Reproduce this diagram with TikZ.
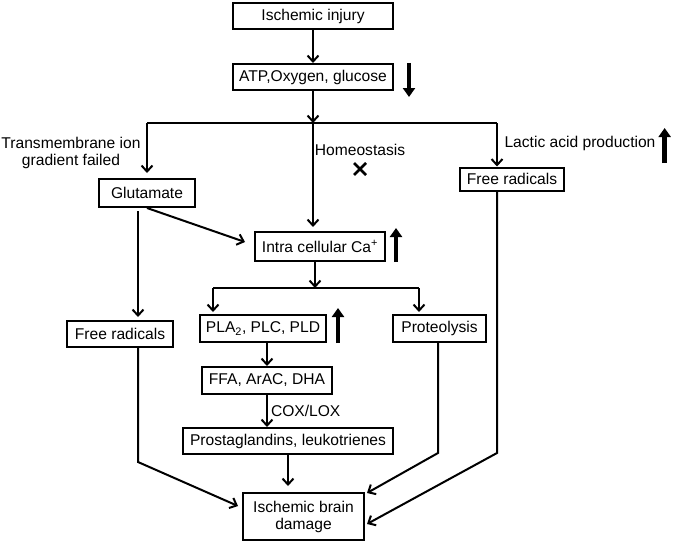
\documentclass[tikz,border=0pt]{standalone}
\usepackage{fontspec}
\setmainfont{Liberation Sans}
\usetikzlibrary{positioning,arrows.meta}

\begin{document}
\begin{tikzpicture}[x=1pt,y=-1pt,
  every node/.style={font=\fontsize{15.6}{17}\selectfont,inner sep=1pt},
  box/.style={draw,line width=2pt,inner sep=2pt,align=center},
  flow/.style={line width=2pt,-{Straight Barb[length=6pt,width=11pt]}},
  plain/.style={line width=2pt},
  trend/.style={line width=4.5pt,-{Triangle[length=9pt,width=12pt]}}]
  \useasboundingbox (0,0) rectangle (674,543);
  \node[box,minimum width=160pt,minimum height=26pt] (injury) at (313,16) {Ischemic injury};
  \node[box,minimum width=160pt,minimum height=26pt] (atp) at (313,77) {ATP,Oxygen, glucose};
  \node[box,minimum width=96pt,minimum height=28pt] (glu) at (147,193) {Glutamate};
  \node[box,minimum width=104pt,minimum height=23pt] (radR) at (512,179) {Free radicals};
  \node[box,minimum width=130pt,minimum height=29pt] (ca) at (320,246.5) {Intra cellular Ca\textsuperscript{+}};
  \node[box,minimum width=106pt,minimum height=26pt] (radL) at (120,334) {Free radicals};
  \node[box,minimum width=126pt,minimum height=27pt] (pla) at (263,328.5) {PLA\textsubscript{2}, PLC, PLD};
  \node[box,minimum width=93pt,minimum height=27pt] (prot) at (439.5,328.5) {Proteolysis};
  \node[box,minimum width=130pt,minimum height=27pt] (ffa) at (267,380.5) {FFA, ArAC, DHA};
  \node[box,minimum width=210pt,minimum height=26pt] (prost) at (288,441) {Prostaglandins, leukotrienes};
  \node[box,minimum width=121pt,minimum height=47pt] (damage) at (303.5,516.5) {Ischemic brain\\damage};

  \node[align=center] (ion) at (71,153) {Transmembrane ion\\gradient failed};
  \node (homeo) at (360,150) {Homeostasis};
  \node (lactic) at (580,143) {Lactic acid production};
  \coordinate (cross) at (360,169);
  \draw[line width=2.6pt] (cross) +(-6,-6) -- +(6,6) +(-6,6) -- +(6,-6);

  \coordinate (split) at (313,123);
  \coordinate (splitL) at (147,123);
  \coordinate (splitR) at (497,123);
  \coordinate (caIn) at (245,242);
  \coordinate (gluOut) at (138,211);
  \coordinate (fork) at (315,288);
  \coordinate (forkL) at (213,288);
  \coordinate (forkR) at (419,288);
  \coordinate (bendL) at (138,462);
  \coordinate (bendP) at (438,453);
  \coordinate (bendR) at (497,453);
  \coordinate (hitL) at (238,506);
  \coordinate (hitP) at (367,493);
  \coordinate (hitR) at (367,524);

  \draw[flow] (injury) -- (atp);
  \draw[flow] (atp) -- (split);
  \draw[plain] (splitL) -- (splitR);
  \draw[flow,shorten >=5pt] (splitL) -- (glu.north);
  \draw[flow,shorten >=4pt] (split) -- (split |- ca.north);
  \draw[flow] (splitR) -- (splitR |- radR.north);
  \draw[flow] (glu.south) -- (caIn);
  \draw[flow,shorten >=3pt] (gluOut) -- (gluOut |- radL.north);
  \draw[flow] (fork |- ca.south) -- (fork);
  \draw[plain] (forkL) -- (forkR);
  \draw[flow,shorten >=2pt] (forkL) -- (forkL |- pla.north);
  \draw[flow,shorten >=2pt] (forkR) -- (forkR |- prot.north);
  \draw[flow] (ffa |- pla.south) -- (ffa.north);
  \draw[flow] (ffa) -- node[right,inner sep=3pt] {COX/LOX} (ffa |- prost.north);
  \draw[flow,shorten >=6pt] (prost) -- (prost |- damage.north);
  \draw[flow] (radL.south -| bendL) -- (bendL) -- (hitL);
  \draw[flow] (prot.south -| bendP) -- (bendP) -- (hitP);
  \draw[flow] (radR.south -| bendR) -- (bendR) -- (hitR);

  \draw[trend] ([xshift=15pt]atp.north east) -- ++(0,34);
  \draw[trend] ([xshift=10pt]ca.south east) -- ++(0,-34);
  \draw[trend] ([xshift=11pt]pla.south east) -- ++(0,-35);
  \draw[trend] ([xshift=8pt]lactic.east) ++(0,20) -- ++(0,-35);
\end{tikzpicture}
\end{document}
